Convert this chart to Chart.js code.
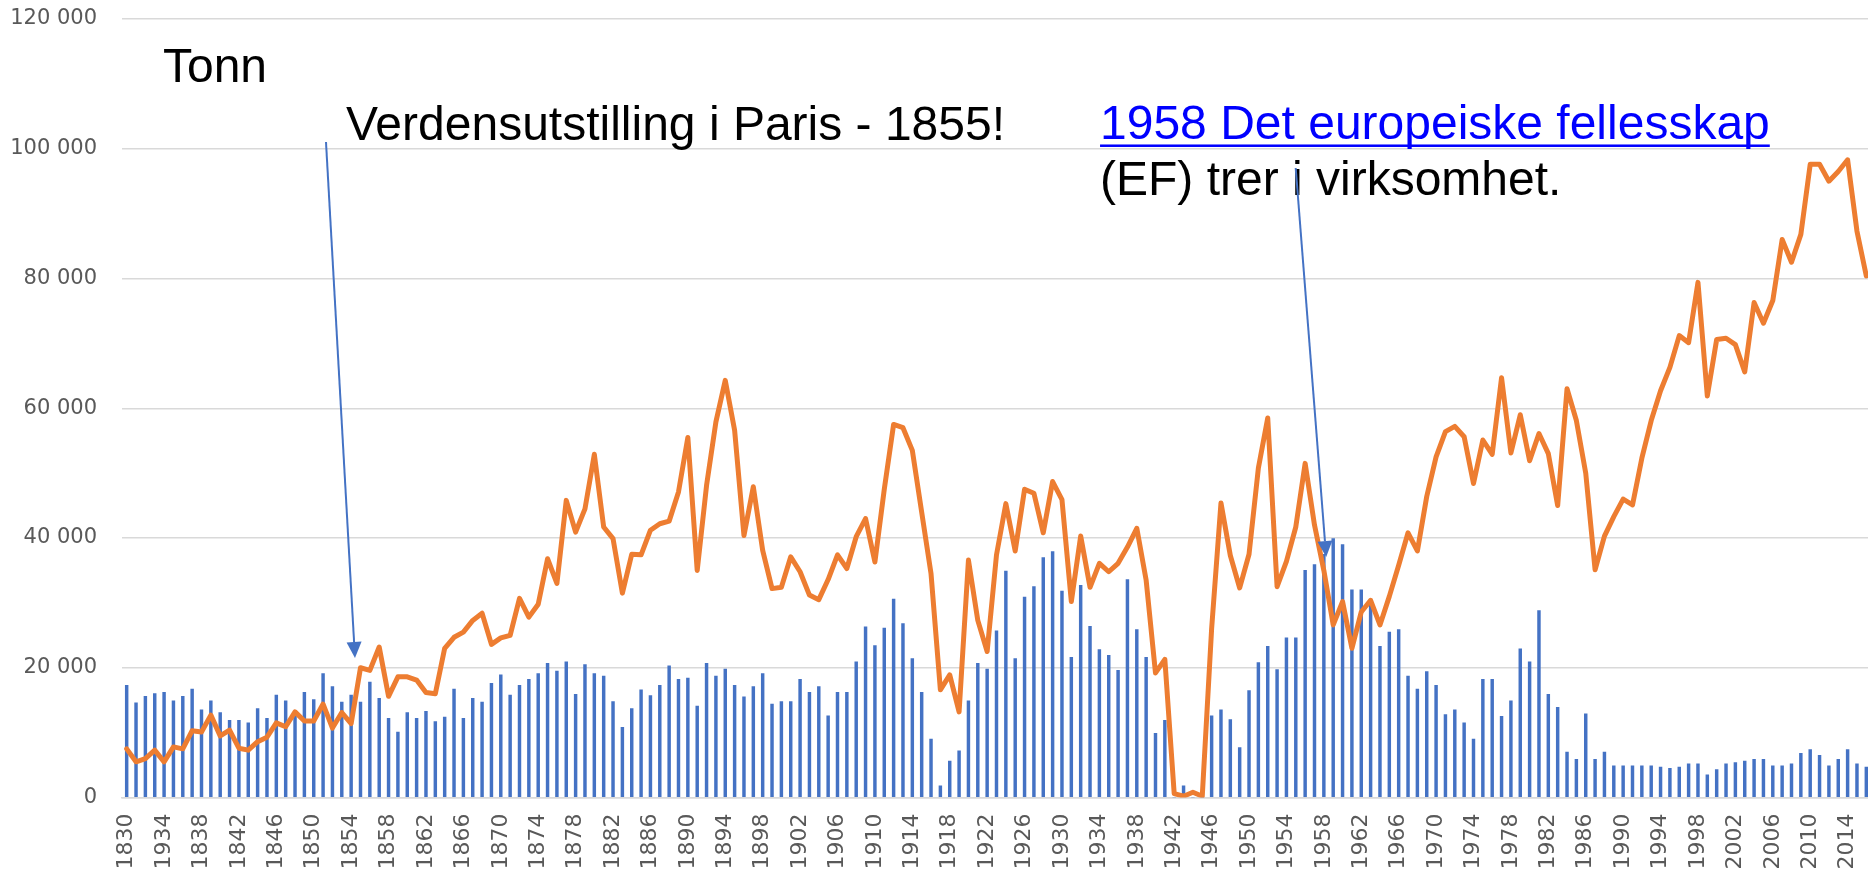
<!DOCTYPE html>
<html>
<head>
<meta charset="utf-8">
<script src="https://cdn.jsdelivr.net/npm/chart.js@4.4.1/dist/chart.umd.min.js"></script>
<style>
  html, body { margin: 0; padding: 0; background: #fff; overflow: hidden; }
  #wrap { position: relative; width: 1871px; height: 872px; }
</style>
</head>
<body>
<div id="wrap"><canvas id="myChart"></canvas></div>
<script>
//categories (the sheet says 1934 where 1834 belongs, kept as in the original)
const years = [
  1830, 1831, 1832, 1833, 1934, 1835, 1836, 1837, 1838, 1839,
  1840, 1841, 1842, 1843, 1844, 1845, 1846, 1847, 1848, 1849,
  1850, 1851, 1852, 1853, 1854, 1855, 1856, 1857, 1858, 1859,
  1860, 1861, 1862, 1863, 1864, 1865, 1866, 1867, 1868, 1869,
  1870, 1871, 1872, 1873, 1874, 1875, 1876, 1877, 1878, 1879,
  1880, 1881, 1882, 1883, 1884, 1885, 1886, 1887, 1888, 1889,
  1890, 1891, 1892, 1893, 1894, 1895, 1896, 1897, 1898, 1899,
  1900, 1901, 1902, 1903, 1904, 1905, 1906, 1907, 1908, 1909,
  1910, 1911, 1912, 1913, 1914, 1915, 1916, 1917, 1918, 1919,
  1920, 1921, 1922, 1923, 1924, 1925, 1926, 1927, 1928, 1929,
  1930, 1931, 1932, 1933, 1934, 1935, 1936, 1937, 1938, 1939,
  1940, 1941, 1942, 1943, 1944, 1945, 1946, 1947, 1948, 1949,
  1950, 1951, 1952, 1953, 1954, 1955, 1956, 1957, 1958, 1959,
  1960, 1961, 1962, 1963, 1964, 1965, 1966, 1967, 1968, 1969,
  1970, 1971, 1972, 1973, 1974, 1975, 1976, 1977, 1978, 1979,
  1980, 1981, 1982, 1983, 1984, 1985, 1986, 1987, 1988, 1989,
  1990, 1991, 1992, 1993, 1994, 1995, 1996, 1997, 1998, 1999,
  2000, 2001, 2002, 2003, 2004, 2005, 2006, 2007, 2008, 2009,
  2010, 2011, 2012, 2013, 2014, 2015, 2016
];

//blue bars, tonn
const barData = [
  17300, 14600, 15600, 16000, 16200, 14900, 15600, 16700, 13500, 14900,
  13100, 11900, 11900, 11500, 13700, 12200, 15800, 14900, 13100, 16200,
  15100, 19100, 17100, 14700, 15800, 14700, 17800, 15300, 12200, 10100,
  13100, 12200, 13300, 11700, 12400, 16700, 12200, 15300, 14700, 17600,
  18900, 15800, 17300, 18200, 19100, 20700, 19500, 20900, 15900, 20500,
  19100, 18700, 14800, 10800, 13700, 16600, 15700, 17300, 20300, 18200,
  18400, 14100, 20700, 18700, 19800, 17300, 15500, 17100, 19100, 14400,
  14800, 14800, 18200, 16200, 17100, 12600, 16200, 16200, 20900, 26300,
  23400, 26100, 30600, 26800, 21400, 16200, 9000, 1800, 5600, 7200,
  14900, 20700, 19800, 25700, 34900, 21400, 30900, 32500, 37000, 37900,
  31800, 21600, 32700, 26400, 22800, 21900, 19600, 33600, 25900, 21600,
  9900, 11900, 0, 1800, 0, 0, 12600, 13500, 12000, 7700,
  16500, 20800, 23300, 19700, 24600, 24600, 35000, 35900, 37500, 39900,
  39000, 32000, 32000, 30400, 23300, 25500, 25900, 18700, 16700, 19400,
  17300, 12800, 13500, 11500, 9000, 18200, 18200, 12500, 14900, 22900,
  20900, 28800, 15900, 13900, 7000, 5900, 12900, 5900, 7000, 4900,
  4900, 4900, 4900, 4900, 4700, 4500, 4700, 5200, 5200, 3500,
  4300, 5200, 5400, 5600, 5900, 5900, 4900, 4900, 5200, 6800,
  7400, 6500, 4900, 5900, 7400, 5200, 4700
];

//orange line, tonn
const lineData = [
  7500, 5500, 6000, 7300, 5500, 7800, 7500, 10300, 10100, 12700,
  9500, 10400, 7600, 7300, 8600, 9300, 11500, 10900, 13200, 11800,
  11800, 14400, 10700, 13100, 11400, 20000, 19600, 23200, 15600, 18600,
  18600, 18100, 16200, 16000, 23000, 24700, 25500, 27300, 28400, 23600,
  24600, 25000, 30700, 27800, 29800, 36800, 33000, 45800, 40900, 44500,
  52900, 41700, 39900, 31500, 37500, 37400, 41200, 42200, 42600, 47100,
  55500, 35000, 48100, 57900, 64300, 56600, 40400, 47900, 38100, 32200,
  32400, 37100, 34800, 31200, 30500, 33600, 37400, 35300, 40200, 43000,
  36300, 47500, 57500, 57000, 53500, 44000, 34500, 16600, 18900, 13200,
  36600, 27300, 22500, 37400, 45300, 38000, 47500, 46900, 40800, 48700,
  45900, 30200, 40300, 32400, 36100, 34800, 36100, 38600, 41500, 33500,
  19200, 21300, 600, 200, 800, 200, 26000, 45400, 37300, 32300,
  37500, 50800, 58500, 32500, 36400, 41700, 51500, 42000, 35000, 26600,
  30200, 23000, 28600, 30400, 26600, 31000, 35800, 40800, 38000, 46400,
  52500, 56400, 57200, 55600, 48400, 55100, 52900, 64700, 53100, 59000,
  51900, 56100, 53000, 45000, 63000, 58100, 50000, 35100, 40300, 43300,
  46000, 45100, 52300, 58100, 62700, 66300, 71200, 70100, 79400, 61900,
  70600, 70800, 69800, 65600, 76300, 73100, 76600, 86000, 82500, 86800,
  97600, 97600, 95000, 96500, 98300, 87300, 80400
];

//y axis
const yMax = 120000;
const yStep = 20000;

//texts on the chart, anchored at [category index, value]
const notes = [
  { text: "Tonn", at: [3.88, 110300], color: "#000000" },
  { text: "Verdensutstilling i Paris - 1855!", at: [23.45, 101350], color: "#000000" },
  { text: "1958 Det europeiske fellesskap", at: [104.07, 101430], color: "#0000FF", underline: true },
  { text: "(EF) trer i virksomhet.", at: [104.07, 92870], color: "#000000" }
];

//arrows, from -> to, same anchoring
const arrows = [
  { from: [21.31, 101040], to: [24.41, 21500] },
  { from: [124.99, 97030], to: [128.25, 37070] }
];

const spaced = (v) => String(v).replace(/\B(?=(\d{3})+(?!\d))/g, " ");

//draws the notes and arrows on top
const annotate = {
  id: "annotate",
  afterDatasetsDraw(chart) {
    const ctx = chart.ctx;
    const xs = chart.scales.x;
    const ys = chart.scales.y;
    ctx.save();
    ctx.font = "48px 'Liberation Sans', Arial, sans-serif";
    ctx.textAlign = "left";
    ctx.textBaseline = "alphabetic";
    notes.forEach((n) => {
      const px = xs.getPixelForValue(n.at[0]);
      const py = ys.getPixelForValue(n.at[1]);
      ctx.fillStyle = n.color;
      ctx.fillText(n.text, px, py);
      if (n.underline) {
        const w = ctx.measureText(n.text).width;
        ctx.fillRect(px, py + 5, w, 2.5);
      }
    });

    ctx.strokeStyle = "#4472C4";
    ctx.fillStyle = "#4472C4";
    ctx.lineWidth = 2;
    arrows.forEach((a) => {
      const x0 = xs.getPixelForValue(a.from[0]);
      const y0 = ys.getPixelForValue(a.from[1]);
      const x1 = xs.getPixelForValue(a.to[0]);
      const y1 = ys.getPixelForValue(a.to[1]);
      const ang = Math.atan2(y1 - y0, x1 - x0);
      const len = 16;
      const half = 7.5;
      const bx = x1 - len * Math.cos(ang);
      const by = y1 - len * Math.sin(ang);
      ctx.beginPath();
      ctx.moveTo(x0, y0);
      ctx.lineTo(bx, by);
      ctx.stroke();
      ctx.beginPath();
      ctx.moveTo(x1, y1);
      ctx.lineTo(bx + half * Math.sin(ang), by - half * Math.cos(ang));
      ctx.lineTo(bx - half * Math.sin(ang), by + half * Math.cos(ang));
      ctx.closePath();
      ctx.fill();
    });
    ctx.restore();
  }
};

const yFont = { family: "'DejaVu Sans', sans-serif", size: 21 };
const xFont = { family: "'DejaVu Sans', sans-serif", size: 22 };

const config = {
  type: "bar",
  data: {
    labels: years,
    datasets: [
      {
        type: "line",
        data: lineData,
        borderColor: "#ED7D31",
        borderWidth: 5,
        pointRadius: 0,
        tension: 0,
        borderJoinStyle: "round",
        borderCapStyle: "round",
        order: 0
      },
      {
        type: "bar",
        data: barData,
        backgroundColor: "#4472C4",
        barThickness: 2.8,
        order: 1
      }
    ]
  },
  options: {
    responsive: true,
    maintainAspectRatio: false,
    animation: false,
    layout: { padding: { top: 19, left: 0, right: 0, bottom: 0 } },
    plugins: {
      legend: { display: false },
      tooltip: { enabled: false }
    },
    scales: {
      x: {
        offset: true,
        grid: { display: false, drawTicks: false },
        border: { display: true, color: "#D9D9D9", width: 1.5 },
        ticks: {
          autoSkip: false,
          minRotation: 90,
          maxRotation: 90,
          padding: 16,
          color: "#595959",
          font: xFont,
          callback: (v, i) => (i % 4 === 0 ? String(years[i]) : "")
        },
        afterFit: (s) => {
          s.height = 74.5;
          s.paddingLeft = 0;
          s.paddingRight = 0;
        }
      },
      y: {
        min: 0,
        max: yMax,
        grid: { color: "#D9D9D9", lineWidth: 1.5, drawTicks: false },
        border: { display: false },
        ticks: {
          stepSize: yStep,
          padding: 25,
          color: "#595959",
          font: yFont,
          callback: (v) => spaced(v)
        },
        afterFit: (s) => {
          s.width = 122;
          s.paddingTop = 0;
          s.paddingBottom = 0;
        }
      }
    }
  },
  plugins: [annotate]
};

const chart = document.getElementById("myChart");
const myChart = new Chart(chart, config);
</script>
</body>
</html>
